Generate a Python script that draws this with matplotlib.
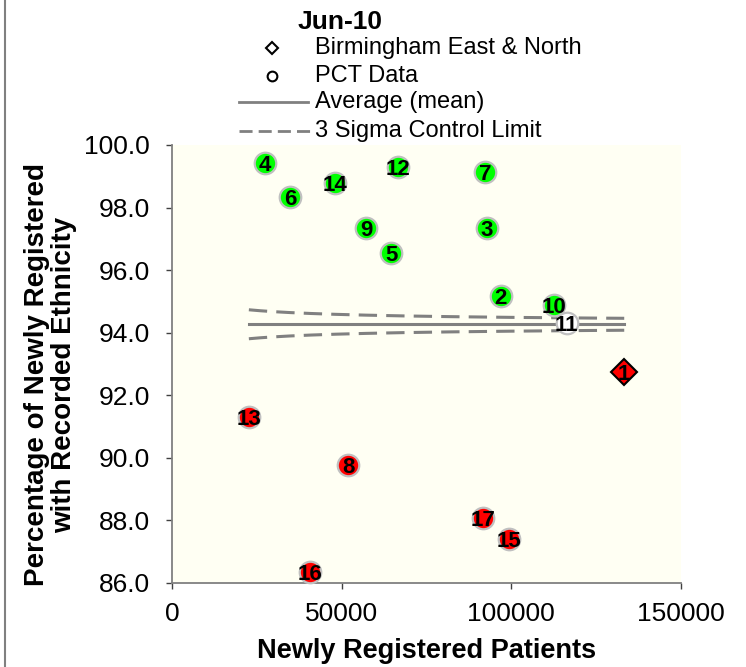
import numpy as np
import matplotlib
matplotlib.use("Agg")
import matplotlib.pyplot as plt
from matplotlib.lines import Line2D
from matplotlib import font_manager

# PCT figures for June 2010
pct_ids = [2, 3, 4, 5, 6, 7, 8, 9, 10, 11, 12, 13, 14, 15, 16, 17]
pct_patients = [96860, 92720, 27460, 64670, 34850, 92220, 51880, 57290,
                112600, 116350, 66530, 22650, 47930, 99310, 40660, 91630]
pct_percent = [95.17, 97.34, 99.43, 96.54, 98.35, 99.13, 89.77, 97.34,
               94.89, 94.32, 99.31, 91.32, 98.78, 87.40, 86.34, 88.09]

# Birmingham East & North
ben_id = 1
ben_patients = 133270
ben_percent = 92.74

mean_percent = 94.27
sigma_level = 3

x_ticks = [0, 50000, 100000, 150000]
y_ticks = [86.0, 88.0, 90.0, 92.0, 94.0, 96.0, 98.0, 100.0]

W, H = 746, 667
fig = plt.figure(figsize=(W / 100, H / 100), dpi=100)
fig.patch.set_facecolor("white")

names = {f.name for f in font_manager.fontManager.ttflist}
base_font = "Liberation Sans" if "Liberation Sans" in names else "DejaVu Sans"
narrow_font = "Liberation Sans Narrow" if "Liberation Sans Narrow" in names else base_font
label_size = 17 if narrow_font != base_font else 16


def px(x, y):
    return x / W, 1 - y / H


ax = fig.add_axes([172 / W, 84 / H, 509 / W, 438 / H])
ax.set_facecolor("#FFFFF3")
ax.set_xlim(0, 150000)
ax.set_ylim(86.0, 100.0)
ax.set_xticks(x_ticks)
ax.set_xticklabels([f"{t:d}" for t in x_ticks])
ax.set_yticks(y_ticks)
ax.set_yticklabels([f"{t:.1f}" for t in y_ticks])
for s in ("top", "right"):
    ax.spines[s].set_visible(False)
for s in ("left", "bottom"):
    ax.spines[s].set_color("#808080")
    ax.spines[s].set_linewidth(1.3)
ax.tick_params(axis="both", direction="out", length=4, width=1, color="#404040",
               labelsize=19)
ax.tick_params(axis="y", pad=12)
ax.tick_params(axis="x", pad=10)
for lab in ax.get_xticklabels() + ax.get_yticklabels():
    lab.set_fontfamily(base_font)

# Axis titles
fig.text(*px(426.5, 658), "Newly Registered Patients", fontsize=19.5,
         fontweight="bold", family=base_font, ha="center", va="baseline")
fig.text(*px(51, 375), "Percentage of Newly Registered\nwith Recorded Ethnicity",
         fontsize=20, fontweight="bold", family=base_font, rotation=90,
         ha="center", va="center", multialignment="center", linespacing=1.05)

# Funnel: mean and 3-sigma control limits across the range of list sizes
all_n = np.array(pct_patients + [ben_patients], dtype=float)
n = np.linspace(all_n.min(), all_n.max(), 200)
p = mean_percent / 100
half = sigma_level * np.sqrt(p * (1 - p) / n) * 100
ax.plot(n, np.full_like(n, mean_percent), color="#808080", lw=2.2, zorder=2)
ax.plot(n, mean_percent + half, color="#808080", lw=2.2, ls=(0, (6, 3)), zorder=2)
ax.plot(n, mean_percent - half, color="#808080", lw=2.2, ls=(0, (6, 3)), zorder=2)


def fill_for(n_i, val):
    h = sigma_level * np.sqrt(p * (1 - p) / n_i) * 100
    if val > mean_percent + h:
        return "#00FF00"
    if val < mean_percent - h:
        return "#FF0000"
    return "white"


for pid, xv, yv in zip(pct_ids, pct_patients, pct_percent):
    ax.plot(xv, yv, marker="o", ms=15.5, mfc=fill_for(xv, yv), mec="#C0C0C0",
            mew=1.6, ls="none", zorder=3, clip_on=False)
    ax.text(xv, yv, str(pid), ha="center", va="center_baseline", fontsize=label_size,
            fontweight="bold", family=narrow_font, zorder=4, clip_on=False)

ax.plot(ben_patients, ben_percent, marker="D", ms=13.5, mfc="#FF0000", mec="black",
        mew=1.5, ls="none", zorder=3)
ax.text(ben_patients, ben_percent, str(ben_id), ha="center", va="center_baseline",
        fontsize=label_size, fontweight="bold", family=narrow_font, zorder=4)

# Legend block above the plot
fig.text(*px(298, 22), "Jun-10", fontsize=19, fontweight="bold", family=base_font,
         ha="left", va="center")
legend_rows = [
    (48, "Birmingham East & North"),
    (76, "PCT Data"),
    (102, "Average (mean)"),
    (131, "3 Sigma Control Limit"),
]
for y, label in legend_rows:
    fig.text(*px(315, y), label, fontsize=17, family=base_font, ha="left", va="center")
fig.add_artist(Line2D([px(272, 48)[0]], [px(272, 48)[1]], marker="D", ms=6,
                      mfc="white", mec="black", mew=1.5, ls="none"))
fig.add_artist(Line2D([px(272, 76)[0]], [px(272, 76)[1]], marker="o", ms=7,
                      mfc="white", mec="black", mew=1.5, ls="none"))
fig.add_artist(Line2D([px(239, 102)[0], px(308, 102)[0]],
                      [px(239, 102)[1], px(308, 102)[1]], color="#808080", lw=2))
fig.add_artist(Line2D([px(239, 131)[0], px(312, 131)[0]],
                      [px(239, 131)[1], px(312, 131)[1]], color="#808080", lw=2,
                      ls=(0, (4.7, 2.2))))

# Frame line along the left edge of the chart area
fig.add_artist(Line2D([5 / W, 5 / W], [0, 1], color="#808080", lw=1.5))

fig.savefig("out.png", dpi=100)
